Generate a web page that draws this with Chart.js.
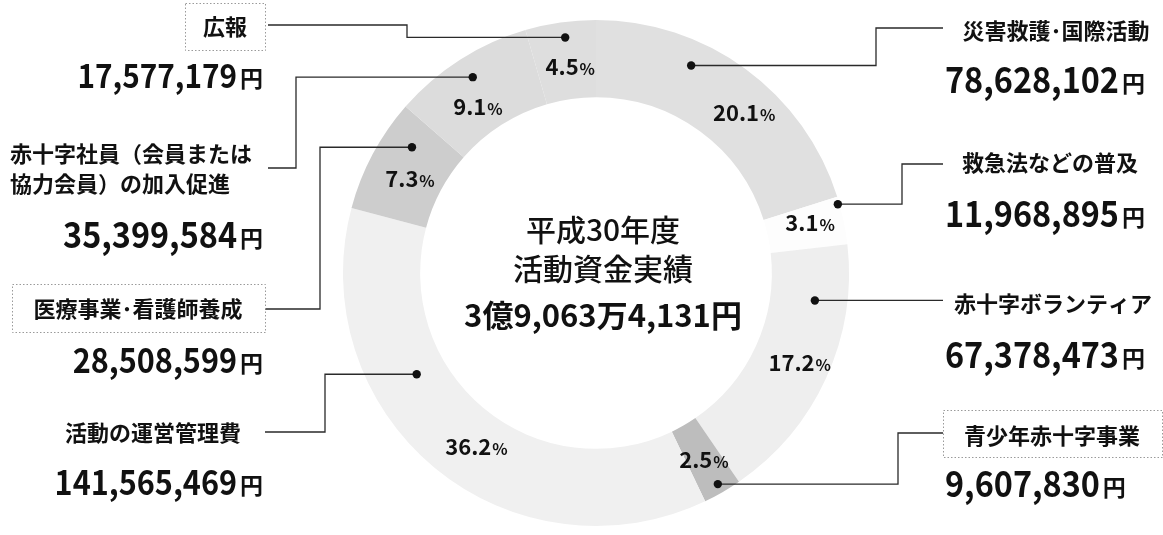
<!DOCTYPE html>
<html><head><meta charset="utf-8">
<script src="https://cdn.jsdelivr.net/npm/chart.js@4"></script>
<style>html,body{margin:0;padding:0;background:#fff;}canvas{display:block;}</style>
</head><body>
<canvas id="c" width="1163" height="535"></canvas>
<script>
// ---- data ----
const categories = ['災害救護･国際活動','救急法などの普及','赤十字ボランティア','青少年赤十字事業','活動の運営管理費','医療事業･看護師養成','赤十字社員（会員または協力会員）の加入促進','広報'];
const categoryLines = [['災害救護･国際活動'],['救急法などの普及'],['赤十字ボランティア'],['青少年赤十字事業'],['活動の運営管理費'],['医療事業･看護師養成'],['赤十字社員（会員または','協力会員）の加入促進'],['広報']];
const amounts = [78628102, 11968895, 67378473, 9607830, 141565469, 28508599, 35399584, 17577179];
const titleLines = ['平成30年度','活動資金実績'];
const totalLabel = '3億9,063万4,131円';

// ---- styles / layout ----
const colors = ['#e0e0e0','#fdfdfd','#eeeeee','#bdbdbd','#f0f0f0','#cdcdcd','#dcdcdc','#dedede'];
const FONT = '"Noto Sans CJK JP","Noto Sans",sans-serif';
const layout = [
  {la:'center', lx:1056, ly:[39], box:null, aa:'left', ax:945, ay:93, fs:36, sx:943, sy:28, ex:876, dot:[0.34,0.68], pct:[0.59,0.55]},
  {la:'center', lx:1050, ly:[171], box:null, aa:'left', ax:945, ay:227, fs:36, sx:943, sy:164, ex:902, dot:[0.15,0.98], pct:[0.40,0.57]},
  {la:'center', lx:1053, ly:[312], box:null, aa:'left', ax:945, ay:368, fs:36, sx:943, sy:null, ex:null, dot:[0.22,0.58], pct:[0.49,0.61]},
  {la:'center', lx:1052, ly:[444], box:[943,410,219,47], aa:'left', ax:945, ay:497, fs:36, sx:943, sy:433, ex:898, dot:[0.5,0.88], pct:[0.5,0.52]},
  {la:'center', lx:153, ly:[441], box:null, aa:'right', ax:263, ay:495, fs:34, sx:265, sy:432, ex:325, dot:[0.66,0.39], pct:[0.46,0.46]},
  {la:'center', lx:138, ly:[317], box:[12,284,253,48], aa:'right', ax:263, ay:373, fs:34, sx:265, sy:309, ex:320, dot:[0.74,0.61], pct:[0.45,0.42]},
  {la:'left', lx:10, ly:[162,192], box:null, aa:'right', ax:263, ay:248, fs:36, sx:268, sy:168, ex:296, dot:[0.51,0.72], pct:[0.41,0.36]},
  {la:'center', lx:225, ly:[35], box:[185,3,80,47], aa:'right', ax:263, ay:88, fs:33, sx:268, sy:25, ex:407, dot:[0.54,0.80], pct:[0.56,0.41]}
];
const NUM_SCALE_X = 0.9;

const total = amounts.reduce((a,b)=>a+b,0);

function arcPoint(el, f, rf){
  const a = el.startAngle + (el.endAngle - el.startAngle) * f;
  const r = el.innerRadius + (el.outerRadius - el.innerRadius) * rf;
  return {x: el.x + Math.cos(a) * r, y: el.y + Math.sin(a) * r};
}

function drawBox(ctx, b){
  ctx.save();
  ctx.strokeStyle = '#9a9a9a';
  ctx.lineWidth = 1;
  ctx.setLineDash([1.5,2]);
  ctx.strokeRect(b[0]+0.5, b[1]+0.5, b[2], b[3]);
  ctx.restore();
}

const annot = {
  id: 'annot',
  afterDatasetsDraw(chart){
    const ctx = chart.ctx;
    const meta = chart.getDatasetMeta(0);
    ctx.save();
    ctx.textBaseline = 'alphabetic';
    meta.data.forEach((el, i) => {
      const L = layout[i];
      const d = arcPoint(el, L.dot[0], L.dot[1]);
      ctx.strokeStyle = '#2a2a2a';
      ctx.lineWidth = 1.3;
      ctx.beginPath();
      if (L.ex === null){
        ctx.moveTo(L.sx, d.y); ctx.lineTo(d.x, d.y);
      } else {
        ctx.moveTo(L.sx, L.sy); ctx.lineTo(L.ex, L.sy); ctx.lineTo(L.ex, d.y); ctx.lineTo(d.x, d.y);
      }
      ctx.stroke();
      ctx.fillStyle = '#111';
      ctx.beginPath(); ctx.arc(d.x, d.y, 4.2, 0, Math.PI*2); ctx.fill();

      // percentage
      const p = arcPoint(el, L.pct[0], L.pct[1]);
      const num = (amounts[i] / total * 100).toFixed(1);
      ctx.font = 'bold 22px ' + FONT;
      const wn = ctx.measureText(num).width;
      ctx.font = 'bold 16px ' + FONT;
      const wp = ctx.measureText('%').width;
      const x0 = p.x - (wn + wp + 1) / 2;
      ctx.fillStyle = '#111';
      ctx.textAlign = 'left';
      ctx.font = 'bold 22px ' + FONT;
      ctx.fillText(num, x0, p.y + 8);
      ctx.font = 'bold 16px ' + FONT;
      ctx.fillText('%', x0 + wn + 1, p.y + 8);

      // category label
      if (L.box) drawBox(ctx, L.box);
      ctx.font = 'bold 22px ' + FONT;
      ctx.fillStyle = '#111';
      ctx.textAlign = L.la;
      categoryLines[i].forEach((t, k) => ctx.fillText(t, L.lx, L.ly[k]));

      // amount (slightly condensed digits)
      const s = amounts[i].toLocaleString('en-US');
      ctx.font = 'bold ' + L.fs + 'px ' + FONT;
      const ws = ctx.measureText(s).width * NUM_SCALE_X;
      ctx.font = 'bold 23px ' + FONT;
      const wy = ctx.measureText('円').width;
      const ax = L.aa === 'left' ? L.ax : L.ax - ws - wy - 3;
      ctx.textAlign = 'left';
      ctx.save();
      ctx.translate(ax, L.ay);
      ctx.scale(NUM_SCALE_X, 1);
      ctx.font = 'bold ' + L.fs + 'px ' + FONT;
      ctx.fillText(s, 0, 0);
      ctx.restore();
      ctx.font = 'bold 23px ' + FONT;
      ctx.fillText('円', ax + ws + 3, L.ay - 1);
    });

    // center text
    const c = meta.data[0];
    const cx = c.x + 7;
    ctx.textAlign = 'center';
    ctx.fillStyle = '#111';
    ctx.font = '500 30px ' + FONT;
    ctx.fillText(titleLines[0], cx, c.y - 32);
    ctx.fillText(titleLines[1], cx, c.y + 7);
    ctx.font = 'bold 31px ' + FONT;
    ctx.fillText(totalLabel, cx, c.y + 54);
    ctx.restore();
  }
};

new Chart(document.getElementById('c'), {
  type: 'doughnut',
  data: {
    labels: categories,
    datasets: [{ data: amounts, backgroundColor: colors, borderWidth: 0 }]
  },
  options: {
    responsive: false,
    animation: false,
    cutout: '69.5%',
    layout: { padding: { left: 343, right: 314, top: 20, bottom: 9 } },
    plugins: { legend: { display: false }, tooltip: { enabled: false } }
  },
  plugins: [annot]
});
</script>
</body></html>
